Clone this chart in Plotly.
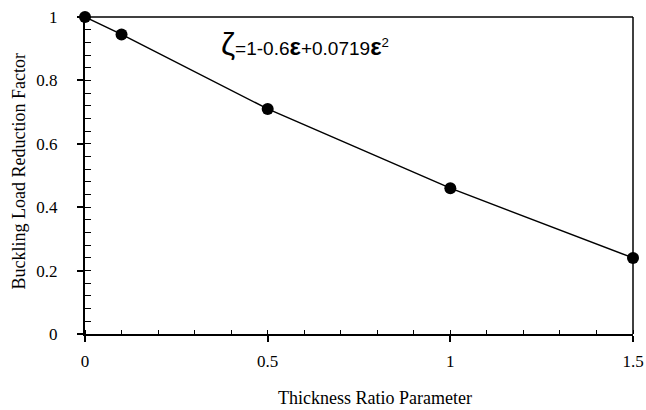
import plotly.graph_objects as go

thickness_ratio = [0, 0.1, 0.5, 1.0, 1.5]
reduction_factor = [1.0, 0.945, 0.71, 0.46, 0.24]

x_ticks = [0, 0.5, 1, 1.5]
x_tick_labels = ["0", "0.5", "1", "1.5"]
y_ticks = [0, 0.2, 0.4, 0.6, 0.8, 1]
y_tick_labels = ["0", "0.2", "0.4", "0.6", "0.8", "1"]

x_title = "Thickness Ratio Parameter"
y_title = "Buckling Load Reduction Factor"

serif = "Liberation Serif, Times New Roman, serif"

fig = go.Figure()
fig.add_trace(go.Scatter(
    x=thickness_ratio, y=reduction_factor,
    mode="lines+markers",
    line=dict(color="black", width=1.5),
    marker=dict(color="black", size=12),
    cliponaxis=False,
    showlegend=False,
))

fig.add_annotation(
    x=0.602, y=0.915, xref="x", yref="y",
    text='<span style="font-size:32px">ζ</span>=1-0.6<b><span style="font-size:24px">ε</span></b>+0.0719<b><span style="font-size:24px">ε</span></b><sup>2</sup>',
    showarrow=False,
    font=dict(family="Liberation Sans, Arial, sans-serif", size=19, color="black"),
)

fig.add_annotation(
    x=0.529, y=0, xref="paper", yref="paper",
    text=x_title, showarrow=False, xanchor="center", yanchor="middle", yshift=-64,
    font=dict(family=serif, size=18, color="black"),
)
fig.add_annotation(
    x=0, y=0.5, xref="paper", yref="paper",
    text=y_title, showarrow=False, textangle=-90, xanchor="center", yanchor="middle",
    xshift=-67, yshift=4,
    font=dict(family=serif, size=18, color="black"),
)

fig.add_shape(type="line", xref="paper", yref="paper", x0=0, y0=1, x1=1, y1=1,
              line=dict(color="black", width=1.5))
fig.add_shape(type="line", xref="paper", yref="paper", x0=1, y0=0, x1=1, y1=1,
              line=dict(color="black", width=1.5))

fig.update_xaxes(
    range=[0, 1.5],
    tickvals=x_ticks, ticktext=x_tick_labels,
    ticks="outside", ticklen=6, tickwidth=1.5, tickcolor="black",
    minor=dict(dtick=0.1, ticks="inside", ticklen=4, tickwidth=1.2, tickcolor="black"),
    showline=True, linecolor="black", linewidth=2,
    showgrid=False, zeroline=False, automargin=False,
    tickfont=dict(family=serif, size=17, color="black"),
    ticklabelstandoff=5, ticklabeloverflow="allow",
)
fig.update_yaxes(
    range=[0, 1],
    tickvals=y_ticks, ticktext=y_tick_labels,
    ticks="outside", ticklen=6, tickwidth=1.5, tickcolor="black",
    minor=dict(dtick=0.04, ticks="inside", ticklen=6, tickwidth=1.2, tickcolor="black"),
    showline=True, linecolor="black", linewidth=2,
    showgrid=False, zeroline=False, automargin=False,
    tickfont=dict(family=serif, size=17, color="black"),
    ticklabelstandoff=16, ticklabeloverflow="allow",
)

fig.update_layout(
    width=646, height=410,
    margin=dict(l=85, r=13, t=17, b=76),
    paper_bgcolor="white", plot_bgcolor="white",
)

# remove the default page margin so the 646x410 figure fills the window exactly
fig.write_html(
    "out.html",
    config={"displayModeBar": False},
    post_script="document.body.style.margin='0';document.body.style.overflow='hidden';",
)
